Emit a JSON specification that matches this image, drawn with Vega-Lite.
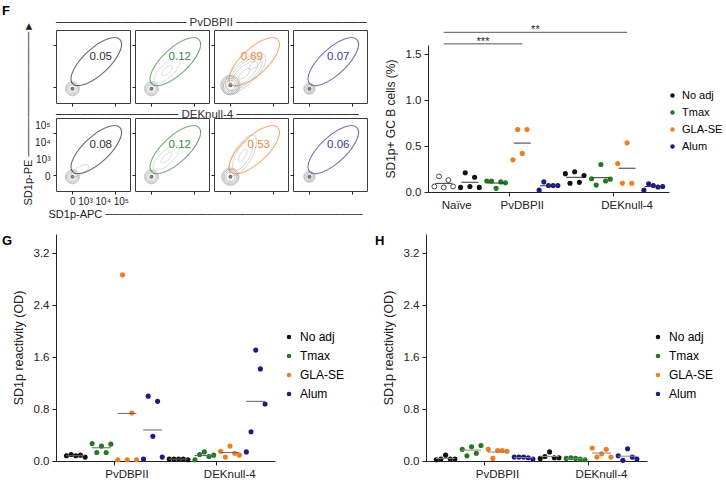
{
  "$schema": "https://vega.github.io/schema/vega-lite/v6.json",
  "padding": {"left": 2, "top": 5, "right": 0, "bottom": 0},
  "config": {
    "font": "Liberation Sans",
    "view": {"stroke": null},
    "axis": {"grid": false, "domainColor": "#222", "tickColor": "#222", "labelColor": "#222", "titleColor": "#222", "titleFontWeight": "normal"},
    "title": {"font": "Liberation Sans"}
  },
  "resolve": {"scale": {"color": "independent"}, "legend": {"color": "independent"}},
  "datasets": {
    "gates": [
      {"antigen": "PvDBPII", "adj": "No adj", "pct": 0.05},
      {"antigen": "PvDBPII", "adj": "Tmax", "pct": 0.12},
      {"antigen": "PvDBPII", "adj": "GLA-SE", "pct": 0.69},
      {"antigen": "PvDBPII", "adj": "Alum", "pct": 0.07},
      {"antigen": "DEKnull-4", "adj": "No adj", "pct": 0.08},
      {"antigen": "DEKnull-4", "adj": "Tmax", "pct": 0.12},
      {"antigen": "DEKnull-4", "adj": "GLA-SE", "pct": 0.53},
      {"antigen": "DEKnull-4", "adj": "Alum", "pct": 0.06}
    ],
    "blob": [{"ring": 1}, {"ring": 2}, {"ring": 3}, {"ring": 4}, {"ring": 5}],
    "clouds": [
      {"antigen": "PvDBPII", "adj": "Tmax", "apc": 0.95, "pe": 1.0, "ring": 1},
      {"antigen": "PvDBPII", "adj": "Tmax", "apc": 0.95, "pe": 1.0, "ring": 2},
      {"antigen": "PvDBPII", "adj": "GLA-SE", "apc": 0.85, "pe": 0.8, "ring": 1},
      {"antigen": "PvDBPII", "adj": "GLA-SE", "apc": 0.85, "pe": 0.8, "ring": 2},
      {"antigen": "PvDBPII", "adj": "GLA-SE", "apc": 0.85, "pe": 0.8, "ring": 3},
      {"antigen": "PvDBPII", "adj": "GLA-SE", "apc": 0.85, "pe": 0.8, "ring": 4},
      {"antigen": "PvDBPII", "adj": "GLA-SE", "apc": 1.5, "pe": 1.4, "ring": 1},
      {"antigen": "DEKnull-4", "adj": "No adj", "apc": 0.45, "pe": 0.25, "ring": 1},
      {"antigen": "DEKnull-4", "adj": "Tmax", "apc": 0.9, "pe": 1.05, "ring": 1},
      {"antigen": "DEKnull-4", "adj": "Tmax", "apc": 0.9, "pe": 1.05, "ring": 2},
      {"antigen": "DEKnull-4", "adj": "GLA-SE", "apc": 0.75, "pe": 1.2, "ring": 1},
      {"antigen": "DEKnull-4", "adj": "GLA-SE", "apc": 0.75, "pe": 1.2, "ring": 2},
      {"antigen": "DEKnull-4", "adj": "GLA-SE", "apc": 0.75, "pe": 1.2, "ring": 3}
    ],
    "sig": [
      {"from": "Naïve", "to": "PvDBPII|GLA-SE", "level": 1, "label": "***"},
      {"from": "Naïve", "to": "DEKnull-4|GLA-SE", "level": 2, "label": "**"}
    ],
    "fdata": [
      {"group": "Naïve", "adj": "Naïve", "rep": 1, "val": 0.06},
      {"group": "Naïve", "adj": "Naïve", "rep": 2, "val": 0.17},
      {"group": "Naïve", "adj": "Naïve", "rep": 3, "val": 0.05},
      {"group": "Naïve", "adj": "Naïve", "rep": 4, "val": 0.13},
      {"group": "Naïve", "adj": "Naïve", "rep": 5, "val": 0.06},
      {"group": "PvDBPII", "adj": "No adj", "rep": 1, "val": 0.05},
      {"group": "PvDBPII", "adj": "No adj", "rep": 2, "val": 0.21},
      {"group": "PvDBPII", "adj": "No adj", "rep": 3, "val": 0.06},
      {"group": "PvDBPII", "adj": "No adj", "rep": 4, "val": 0.16},
      {"group": "PvDBPII", "adj": "No adj", "rep": 5, "val": 0.05},
      {"group": "PvDBPII", "adj": "Tmax", "rep": 1, "val": 0.12},
      {"group": "PvDBPII", "adj": "Tmax", "rep": 2, "val": 0.12},
      {"group": "PvDBPII", "adj": "Tmax", "rep": 3, "val": 0.04},
      {"group": "PvDBPII", "adj": "Tmax", "rep": 4, "val": 0.11},
      {"group": "PvDBPII", "adj": "Tmax", "rep": 5, "val": 0.1},
      {"group": "PvDBPII", "adj": "GLA-SE", "rep": 1, "val": 0.35},
      {"group": "PvDBPII", "adj": "GLA-SE", "rep": 2, "val": 0.68},
      {"group": "PvDBPII", "adj": "GLA-SE", "rep": 3, "val": 0.42},
      {"group": "PvDBPII", "adj": "GLA-SE", "rep": 4, "val": 0.68},
      {"group": "PvDBPII", "adj": "Alum", "rep": 1, "val": 0.02},
      {"group": "PvDBPII", "adj": "Alum", "rep": 2, "val": 0.11},
      {"group": "PvDBPII", "adj": "Alum", "rep": 3, "val": 0.07},
      {"group": "PvDBPII", "adj": "Alum", "rep": 4, "val": 0.07},
      {"group": "PvDBPII", "adj": "Alum", "rep": 5, "val": 0.07},
      {"group": "DEKnull-4", "adj": "No adj", "rep": 1, "val": 0.2},
      {"group": "DEKnull-4", "adj": "No adj", "rep": 2, "val": 0.095},
      {"group": "DEKnull-4", "adj": "No adj", "rep": 3, "val": 0.22},
      {"group": "DEKnull-4", "adj": "No adj", "rep": 4, "val": 0.105},
      {"group": "DEKnull-4", "adj": "No adj", "rep": 5, "val": 0.18},
      {"group": "DEKnull-4", "adj": "Tmax", "rep": 1, "val": 0.145},
      {"group": "DEKnull-4", "adj": "Tmax", "rep": 2, "val": 0.075},
      {"group": "DEKnull-4", "adj": "Tmax", "rep": 3, "val": 0.3},
      {"group": "DEKnull-4", "adj": "Tmax", "rep": 4, "val": 0.12},
      {"group": "DEKnull-4", "adj": "Tmax", "rep": 5, "val": 0.14},
      {"group": "DEKnull-4", "adj": "GLA-SE", "rep": 1, "val": 0.31},
      {"group": "DEKnull-4", "adj": "GLA-SE", "rep": 2, "val": 0.095},
      {"group": "DEKnull-4", "adj": "GLA-SE", "rep": 3, "val": 0.535},
      {"group": "DEKnull-4", "adj": "GLA-SE", "rep": 4, "val": 0.095},
      {"group": "DEKnull-4", "adj": "Alum", "rep": 1, "val": 0.02},
      {"group": "DEKnull-4", "adj": "Alum", "rep": 2, "val": 0.09},
      {"group": "DEKnull-4", "adj": "Alum", "rep": 3, "val": 0.07},
      {"group": "DEKnull-4", "adj": "Alum", "rep": 4, "val": 0.055},
      {"group": "DEKnull-4", "adj": "Alum", "rep": 5, "val": 0.06}
    ],
    "g": [
      {"group": "PvDBPII", "adj": "No adj", "rep": 1, "val": 0.08},
      {"group": "PvDBPII", "adj": "No adj", "rep": 2, "val": 0.1},
      {"group": "PvDBPII", "adj": "No adj", "rep": 3, "val": 0.08},
      {"group": "PvDBPII", "adj": "No adj", "rep": 4, "val": 0.09},
      {"group": "PvDBPII", "adj": "No adj", "rep": 5, "val": 0.06},
      {"group": "PvDBPII", "adj": "Tmax", "rep": 1, "val": 0.27},
      {"group": "PvDBPII", "adj": "Tmax", "rep": 2, "val": 0.13},
      {"group": "PvDBPII", "adj": "Tmax", "rep": 3, "val": 0.23},
      {"group": "PvDBPII", "adj": "Tmax", "rep": 4, "val": 0.13},
      {"group": "PvDBPII", "adj": "Tmax", "rep": 5, "val": 0.26},
      {"group": "PvDBPII", "adj": "GLA-SE", "rep": 1, "val": 0.02},
      {"group": "PvDBPII", "adj": "GLA-SE", "rep": 2, "val": 2.87},
      {"group": "PvDBPII", "adj": "GLA-SE", "rep": 3, "val": 0.02},
      {"group": "PvDBPII", "adj": "GLA-SE", "rep": 4, "val": 0.74},
      {"group": "PvDBPII", "adj": "GLA-SE", "rep": 5, "val": 0.02},
      {"group": "PvDBPII", "adj": "Alum", "rep": 1, "val": 0.03},
      {"group": "PvDBPII", "adj": "Alum", "rep": 2, "val": 1.0},
      {"group": "PvDBPII", "adj": "Alum", "rep": 3, "val": 0.38},
      {"group": "PvDBPII", "adj": "Alum", "rep": 4, "val": 0.92},
      {"group": "PvDBPII", "adj": "Alum", "rep": 5, "val": 0.06},
      {"group": "DEKnull-4", "adj": "No adj", "rep": 1, "val": 0.03},
      {"group": "DEKnull-4", "adj": "No adj", "rep": 2, "val": 0.03},
      {"group": "DEKnull-4", "adj": "No adj", "rep": 3, "val": 0.03},
      {"group": "DEKnull-4", "adj": "No adj", "rep": 4, "val": 0.03},
      {"group": "DEKnull-4", "adj": "No adj", "rep": 5, "val": 0.02},
      {"group": "DEKnull-4", "adj": "Tmax", "rep": 1, "val": 0.02},
      {"group": "DEKnull-4", "adj": "Tmax", "rep": 2, "val": 0.1},
      {"group": "DEKnull-4", "adj": "Tmax", "rep": 3, "val": 0.14},
      {"group": "DEKnull-4", "adj": "Tmax", "rep": 4, "val": 0.07},
      {"group": "DEKnull-4", "adj": "Tmax", "rep": 5, "val": 0.09},
      {"group": "DEKnull-4", "adj": "GLA-SE", "rep": 1, "val": 0.15},
      {"group": "DEKnull-4", "adj": "GLA-SE", "rep": 2, "val": 0.06},
      {"group": "DEKnull-4", "adj": "GLA-SE", "rep": 3, "val": 0.23},
      {"group": "DEKnull-4", "adj": "GLA-SE", "rep": 4, "val": 0.12},
      {"group": "DEKnull-4", "adj": "GLA-SE", "rep": 5, "val": 0.09},
      {"group": "DEKnull-4", "adj": "Alum", "rep": 1, "val": 0.14},
      {"group": "DEKnull-4", "adj": "Alum", "rep": 2, "val": 0.45},
      {"group": "DEKnull-4", "adj": "Alum", "rep": 3, "val": 1.71},
      {"group": "DEKnull-4", "adj": "Alum", "rep": 4, "val": 1.42},
      {"group": "DEKnull-4", "adj": "Alum", "rep": 5, "val": 0.88}
    ],
    "h": [
      {"group": "PvDBPII", "adj": "No adj", "rep": 1, "val": 0.02},
      {"group": "PvDBPII", "adj": "No adj", "rep": 2, "val": 0.03},
      {"group": "PvDBPII", "adj": "No adj", "rep": 3, "val": 0.09},
      {"group": "PvDBPII", "adj": "No adj", "rep": 4, "val": 0.03},
      {"group": "PvDBPII", "adj": "No adj", "rep": 5, "val": 0.03},
      {"group": "PvDBPII", "adj": "Tmax", "rep": 1, "val": 0.18},
      {"group": "PvDBPII", "adj": "Tmax", "rep": 2, "val": 0.08},
      {"group": "PvDBPII", "adj": "Tmax", "rep": 3, "val": 0.22},
      {"group": "PvDBPII", "adj": "Tmax", "rep": 4, "val": 0.12},
      {"group": "PvDBPII", "adj": "Tmax", "rep": 5, "val": 0.24},
      {"group": "PvDBPII", "adj": "GLA-SE", "rep": 1, "val": 0.18},
      {"group": "PvDBPII", "adj": "GLA-SE", "rep": 2, "val": 0.04},
      {"group": "PvDBPII", "adj": "GLA-SE", "rep": 3, "val": 0.16},
      {"group": "PvDBPII", "adj": "GLA-SE", "rep": 4, "val": 0.16},
      {"group": "PvDBPII", "adj": "GLA-SE", "rep": 5, "val": 0.15},
      {"group": "PvDBPII", "adj": "Alum", "rep": 1, "val": 0.06},
      {"group": "PvDBPII", "adj": "Alum", "rep": 2, "val": 0.06},
      {"group": "PvDBPII", "adj": "Alum", "rep": 3, "val": 0.06},
      {"group": "PvDBPII", "adj": "Alum", "rep": 4, "val": 0.05},
      {"group": "PvDBPII", "adj": "Alum", "rep": 5, "val": 0.03},
      {"group": "DEKnull-4", "adj": "No adj", "rep": 1, "val": 0.04},
      {"group": "DEKnull-4", "adj": "No adj", "rep": 2, "val": 0.07},
      {"group": "DEKnull-4", "adj": "No adj", "rep": 3, "val": 0.14},
      {"group": "DEKnull-4", "adj": "No adj", "rep": 4, "val": 0.05},
      {"group": "DEKnull-4", "adj": "No adj", "rep": 5, "val": 0.05},
      {"group": "DEKnull-4", "adj": "Tmax", "rep": 1, "val": 0.04},
      {"group": "DEKnull-4", "adj": "Tmax", "rep": 2, "val": 0.05},
      {"group": "DEKnull-4", "adj": "Tmax", "rep": 3, "val": 0.04},
      {"group": "DEKnull-4", "adj": "Tmax", "rep": 4, "val": 0.03},
      {"group": "DEKnull-4", "adj": "Tmax", "rep": 5, "val": 0.02},
      {"group": "DEKnull-4", "adj": "GLA-SE", "rep": 1, "val": 0.2},
      {"group": "DEKnull-4", "adj": "GLA-SE", "rep": 2, "val": 0.06},
      {"group": "DEKnull-4", "adj": "GLA-SE", "rep": 3, "val": 0.11},
      {"group": "DEKnull-4", "adj": "GLA-SE", "rep": 4, "val": 0.18},
      {"group": "DEKnull-4", "adj": "GLA-SE", "rep": 5, "val": 0.06},
      {"group": "DEKnull-4", "adj": "Alum", "rep": 1, "val": 0.08},
      {"group": "DEKnull-4", "adj": "Alum", "rep": 2, "val": 0.01},
      {"group": "DEKnull-4", "adj": "Alum", "rep": 3, "val": 0.19},
      {"group": "DEKnull-4", "adj": "Alum", "rep": 4, "val": 0.06},
      {"group": "DEKnull-4", "adj": "Alum", "rep": 5, "val": 0.03}
    ]
  },
  "vconcat": [
    {
      "resolve": {"scale": {"color": "independent"}, "legend": {"color": "independent"}},
      "hconcat": [
        {
          "title": {"text": "F", "anchor": "start", "frame": "group", "fontSize": 13, "fontWeight": "bold", "color": "#000", "dx": -54, "offset": -2},
          "columns": 4,
          "spacing": {"row": 15, "column": 5},
          "bounds": "flush",
          "concat": [
            {"width": 74, "height": 73, "view": {"stroke": "#3c3c3c", "strokeWidth": 1}, "resolve": {"scale": {"size": "independent"}},
              "title": {"text": "──────────────── PvDBPII ────────────────", "anchor": "start", "frame": "group", "fontSize": 11.5, "fontWeight": "normal", "color": "#333", "offset": 2, "limit": 0},
              "layer": [
              {"data": {"name": "blob"}, "mark": {"type": "point", "shape": "circle", "filled": false, "stroke": "#9a9a9a", "strokeWidth": 0.7}, "encoding": {"x": {"datum": 0, "type": "quantitative", "scale": {"domain": [-0.9, 3.1]}, "axis": {"values": [0, 0.6, 1.6, 2.6], "labels": false, "domain": false, "tickSize": 3, "title": null}}, "y": {"datum": -0.12, "type": "quantitative", "scale": {"domain": [-0.9, 3.1]}, "axis": {"values": [0, 0.6, 1.6, 2.6], "labels": false, "domain": false, "tickSize": 3, "title": null}}, "size": {"field": "ring", "type": "quantitative", "scale": {"domain": [1, 5], "range": [200, 8]}, "legend": null}}},
              {"data": {"name": "blob"}, "transform": [{"filter": "datum.ring == 5"}], "mark": {"type": "point", "shape": "circle", "filled": true, "color": "#4a4a4a", "size": 16}, "encoding": {"x": {"datum": 0, "type": "quantitative"}, "y": {"datum": -0.12, "type": "quantitative"}}},
              {"data": {"name": "gates"}, "transform": [{"filter": "datum.antigen == 'PvDBPII' && datum.adj == 'No adj'"}], "mark": {"type": "point", "shape": "M1,0C1,0.221,0.552,0.4,0,0.4C-0.552,0.4,-1,0.221,-1,0C-1,-0.221,-0.552,-0.4,0,-0.4C0.552,-0.4,1,-0.221,1,0Z", "angle": 317, "filled": false, "stroke": "#2e2e2e", "strokeWidth": 1.1, "size": 4200}, "encoding": {"x": {"datum": 1.45, "type": "quantitative"}, "y": {"datum": 1.55, "type": "quantitative"}}},
              {"data": {"name": "gates"}, "transform": [{"filter": "datum.antigen == 'PvDBPII' && datum.adj == 'No adj'"}], "mark": {"type": "text", "fontSize": 11.5, "color": "#2e2e2e"}, "encoding": {"x": {"datum": 1.72, "type": "quantitative"}, "y": {"datum": 1.82, "type": "quantitative"}, "text": {"field": "pct", "type": "quantitative", "format": ".2f"}}}
            ]},
            {"width": 74, "height": 73, "view": {"stroke": "#3c3c3c", "strokeWidth": 1}, "resolve": {"scale": {"size": "independent"}},
              "title": {"text": "─────────────── DEKnull-4 ───────────────", "orient": "bottom", "anchor": "start", "frame": "group", "dx": -79, "fontSize": 11.5, "fontWeight": "normal", "color": "#333", "offset": 2, "limit": 0},
              "layer": [
              {"data": {"name": "blob"}, "mark": {"type": "point", "shape": "circle", "filled": false, "stroke": "#9a9a9a", "strokeWidth": 0.7}, "encoding": {"x": {"datum": 0, "type": "quantitative", "scale": {"domain": [-0.9, 3.1]}, "axis": {"values": [0, 0.6, 1.6, 2.6], "labels": false, "domain": false, "tickSize": 3, "title": null}}, "y": {"datum": -0.12, "type": "quantitative", "scale": {"domain": [-0.9, 3.1]}, "axis": {"values": [0, 0.6, 1.6, 2.6], "labels": false, "domain": false, "tickSize": 3, "title": null}}, "size": {"field": "ring", "type": "quantitative", "scale": {"domain": [1, 5], "range": [200, 8]}, "legend": null}}},
              {"data": {"name": "blob"}, "transform": [{"filter": "datum.ring == 5"}], "mark": {"type": "point", "shape": "circle", "filled": true, "color": "#4a4a4a", "size": 16}, "encoding": {"x": {"datum": 0, "type": "quantitative"}, "y": {"datum": -0.12, "type": "quantitative"}}},
              {"data": {"name": "clouds"}, "transform": [{"filter": "datum.antigen == 'PvDBPII' && datum.adj == 'Tmax'"}], "mark": {"type": "point", "shape": "M1,0C1,0.221,0.552,0.4,0,0.4C-0.552,0.4,-1,0.221,-1,0C-1,-0.221,-0.552,-0.4,0,-0.4C0.552,-0.4,1,-0.221,1,0Z", "angle": 317, "filled": false, "stroke": "#b0b0b0", "strokeWidth": 0.6}, "encoding": {"x": {"field": "apc", "type": "quantitative"}, "y": {"field": "pe", "type": "quantitative"}, "size": {"field": "ring", "type": "quantitative", "scale": {"domain": [1, 4], "range": [200, 3000]}, "legend": null}}},
              {"data": {"name": "gates"}, "transform": [{"filter": "datum.antigen == 'PvDBPII' && datum.adj == 'Tmax'"}], "mark": {"type": "point", "shape": "M1,0C1,0.221,0.552,0.4,0,0.4C-0.552,0.4,-1,0.221,-1,0C-1,-0.221,-0.552,-0.4,0,-0.4C0.552,-0.4,1,-0.221,1,0Z", "angle": 317, "filled": false, "stroke": "#358d35", "strokeWidth": 1.1, "size": 4200}, "encoding": {"x": {"datum": 1.45, "type": "quantitative"}, "y": {"datum": 1.55, "type": "quantitative"}}},
              {"data": {"name": "gates"}, "transform": [{"filter": "datum.antigen == 'PvDBPII' && datum.adj == 'Tmax'"}], "mark": {"type": "text", "fontSize": 11.5, "color": "#358d35"}, "encoding": {"x": {"datum": 1.72, "type": "quantitative"}, "y": {"datum": 1.82, "type": "quantitative"}, "text": {"field": "pct", "type": "quantitative", "format": ".2f"}}}
            ]},
            {"width": 74, "height": 73, "view": {"stroke": "#3c3c3c", "strokeWidth": 1}, "resolve": {"scale": {"size": "independent"}}, "layer": [
              {"data": {"name": "blob"}, "mark": {"type": "point", "shape": "circle", "filled": false, "stroke": "#808080", "strokeWidth": 0.7}, "encoding": {"x": {"datum": 0, "type": "quantitative", "scale": {"domain": [-0.9, 3.1]}, "axis": {"values": [0, 0.6, 1.6, 2.6], "labels": false, "domain": false, "tickSize": 3, "title": null}}, "y": {"datum": 0.1, "type": "quantitative", "scale": {"domain": [-0.9, 3.1]}, "axis": {"values": [0, 0.6, 1.6, 2.6], "labels": false, "domain": false, "tickSize": 3, "title": null}}, "size": {"field": "ring", "type": "quantitative", "scale": {"domain": [1, 5], "range": [380, 10]}, "legend": null}}},
              {"data": {"name": "blob"}, "transform": [{"filter": "datum.ring == 5"}], "mark": {"type": "point", "shape": "circle", "filled": true, "color": "#4a4a4a", "size": 16}, "encoding": {"x": {"datum": 0, "type": "quantitative"}, "y": {"datum": 0.1, "type": "quantitative"}}},
              {"data": {"name": "clouds"}, "transform": [{"filter": "datum.antigen == 'PvDBPII' && datum.adj == 'GLA-SE'"}], "mark": {"type": "point", "shape": "M1,0C1,0.221,0.552,0.4,0,0.4C-0.552,0.4,-1,0.221,-1,0C-1,-0.221,-0.552,-0.4,0,-0.4C0.552,-0.4,1,-0.221,1,0Z", "angle": 317, "filled": false, "stroke": "#a0a0a0", "strokeWidth": 0.6}, "encoding": {"x": {"field": "apc", "type": "quantitative"}, "y": {"field": "pe", "type": "quantitative"}, "size": {"field": "ring", "type": "quantitative", "scale": {"domain": [1, 4], "range": [200, 3000]}, "legend": null}}},
              {"data": {"name": "gates"}, "transform": [{"filter": "datum.antigen == 'PvDBPII' && datum.adj == 'GLA-SE'"}], "mark": {"type": "point", "shape": "M1,0C1,0.221,0.552,0.4,0,0.4C-0.552,0.4,-1,0.221,-1,0C-1,-0.221,-0.552,-0.4,0,-0.4C0.552,-0.4,1,-0.221,1,0Z", "angle": 317, "filled": false, "stroke": "#f5883a", "strokeWidth": 1.1, "size": 4200}, "encoding": {"x": {"datum": 1.45, "type": "quantitative"}, "y": {"datum": 1.55, "type": "quantitative"}}},
              {"data": {"name": "gates"}, "transform": [{"filter": "datum.antigen == 'PvDBPII' && datum.adj == 'GLA-SE'"}], "mark": {"type": "text", "fontSize": 11.5, "color": "#f5883a"}, "encoding": {"x": {"datum": 1.3, "type": "quantitative"}, "y": {"datum": 1.82, "type": "quantitative"}, "text": {"field": "pct", "type": "quantitative", "format": ".2f"}}}
            ]},
            {"width": 74, "height": 73, "view": {"stroke": "#3c3c3c", "strokeWidth": 1}, "resolve": {"scale": {"size": "independent"}}, "layer": [
              {"data": {"name": "blob"}, "mark": {"type": "point", "shape": "circle", "filled": false, "stroke": "#9a9a9a", "strokeWidth": 0.7}, "encoding": {"x": {"datum": 0, "type": "quantitative", "scale": {"domain": [-0.9, 3.1]}, "axis": {"values": [0, 0.6, 1.6, 2.6], "labels": false, "domain": false, "tickSize": 3, "title": null}}, "y": {"datum": -0.12, "type": "quantitative", "scale": {"domain": [-0.9, 3.1]}, "axis": {"values": [0, 0.6, 1.6, 2.6], "labels": false, "domain": false, "tickSize": 3, "title": null}}, "size": {"field": "ring", "type": "quantitative", "scale": {"domain": [1, 5], "range": [130, 8]}, "legend": null}}},
              {"data": {"name": "blob"}, "transform": [{"filter": "datum.ring == 5"}], "mark": {"type": "point", "shape": "circle", "filled": true, "color": "#4a4a4a", "size": 16}, "encoding": {"x": {"datum": 0, "type": "quantitative"}, "y": {"datum": -0.12, "type": "quantitative"}}},
              {"data": {"name": "gates"}, "transform": [{"filter": "datum.antigen == 'PvDBPII' && datum.adj == 'Alum'"}], "mark": {"type": "point", "shape": "M1,0C1,0.221,0.552,0.4,0,0.4C-0.552,0.4,-1,0.221,-1,0C-1,-0.221,-0.552,-0.4,0,-0.4C0.552,-0.4,1,-0.221,1,0Z", "angle": 317, "filled": false, "stroke": "#3a3aa6", "strokeWidth": 1.1, "size": 4200}, "encoding": {"x": {"datum": 1.45, "type": "quantitative"}, "y": {"datum": 1.55, "type": "quantitative"}}},
              {"data": {"name": "gates"}, "transform": [{"filter": "datum.antigen == 'PvDBPII' && datum.adj == 'Alum'"}], "mark": {"type": "text", "fontSize": 11.5, "color": "#3a3aa6"}, "encoding": {"x": {"datum": 1.75, "type": "quantitative"}, "y": {"datum": 1.82, "type": "quantitative"}, "text": {"field": "pct", "type": "quantitative", "format": ".2f"}}}
            ]},
            {"width": 74, "height": 73, "view": {"stroke": "#3c3c3c", "strokeWidth": 1}, "resolve": {"scale": {"size": "independent"}},
              "layer": [
              {"data": {"name": "blob"}, "mark": {"type": "point", "shape": "circle", "filled": false, "stroke": "#9a9a9a", "strokeWidth": 0.7}, "encoding": {"x": {"datum": 0, "type": "quantitative", "scale": {"domain": [-0.9, 3.1]}, "axis": {"values": [0, 0.6, 1.6, 2.6], "domain": false, "tickSize": 3, "labelFontSize": 10, "labelPadding": 2, "labelAlign": "left", "labelOffset": -3, "labelOverlap": false, "labelBound": false, "labelFlush": false, "labelExpr": "datum.value == 0 ? '0 10³ 10⁴ 10⁵' : ''", "title": "SD1p-APC ─────────────────────────────────", "titleFontSize": 11, "titleAnchor": "start", "titleAlign": "left", "titleBaseline": "middle", "titleX": -8, "titleY": 23, "titleLimit": 600}}, "y": {"datum": -0.12, "type": "quantitative", "scale": {"domain": [-0.9, 3.1]}, "axis": {"values": [0, 0.6, 1.6, 2.6], "domain": false, "tickSize": 3, "labelFontSize": 10, "labelPadding": 3, "labelBaseline": "middle", "labelLineHeight": 17, "labelOffset": -7, "labelOverlap": false, "labelBound": false, "labelFlush": false, "labelExpr": "datum.value > 2 ? ['10⁵', '10⁴', '10³', '0'] : ''", "title": "SD1p-PE ────────────────►", "titleFontSize": 11, "titleAngle": 270, "titleAnchor": "start", "titleAlign": "left", "titleBaseline": "middle", "titleX": -28, "titleY": 87, "titleLimit": 600}}, "size": {"field": "ring", "type": "quantitative", "scale": {"domain": [1, 5], "range": [200, 8]}, "legend": null}}},
              {"data": {"name": "blob"}, "transform": [{"filter": "datum.ring == 5"}], "mark": {"type": "point", "shape": "circle", "filled": true, "color": "#4a4a4a", "size": 16}, "encoding": {"x": {"datum": 0, "type": "quantitative"}, "y": {"datum": -0.12, "type": "quantitative"}}},
              {"data": {"name": "clouds"}, "transform": [{"filter": "datum.antigen == 'DEKnull-4' && datum.adj == 'No adj'"}], "mark": {"type": "point", "shape": "M1,0C1,0.221,0.552,0.4,0,0.4C-0.552,0.4,-1,0.221,-1,0C-1,-0.221,-0.552,-0.4,0,-0.4C0.552,-0.4,1,-0.221,1,0Z", "angle": 330, "filled": false, "stroke": "#b0b0b0", "strokeWidth": 0.6}, "encoding": {"x": {"field": "apc", "type": "quantitative"}, "y": {"field": "pe", "type": "quantitative"}, "size": {"field": "ring", "type": "quantitative", "scale": {"domain": [1, 4], "range": [400, 3000]}, "legend": null}}},
              {"data": {"name": "gates"}, "transform": [{"filter": "datum.antigen == 'DEKnull-4' && datum.adj == 'No adj'"}], "mark": {"type": "point", "shape": "M1,0C1,0.221,0.552,0.4,0,0.4C-0.552,0.4,-1,0.221,-1,0C-1,-0.221,-0.552,-0.4,0,-0.4C0.552,-0.4,1,-0.221,1,0Z", "angle": 317, "filled": false, "stroke": "#2e2e2e", "strokeWidth": 1.1, "size": 4200}, "encoding": {"x": {"datum": 1.45, "type": "quantitative"}, "y": {"datum": 1.55, "type": "quantitative"}}},
              {"data": {"name": "gates"}, "transform": [{"filter": "datum.antigen == 'DEKnull-4' && datum.adj == 'No adj'"}], "mark": {"type": "text", "fontSize": 11.5, "color": "#2e2e2e"}, "encoding": {"x": {"datum": 1.72, "type": "quantitative"}, "y": {"datum": 1.82, "type": "quantitative"}, "text": {"field": "pct", "type": "quantitative", "format": ".2f"}}}
            ]},
            {"width": 74, "height": 73, "view": {"stroke": "#3c3c3c", "strokeWidth": 1}, "resolve": {"scale": {"size": "independent"}}, "layer": [
              {"data": {"name": "blob"}, "mark": {"type": "point", "shape": "circle", "filled": false, "stroke": "#9a9a9a", "strokeWidth": 0.7}, "encoding": {"x": {"datum": 0, "type": "quantitative", "scale": {"domain": [-0.9, 3.1]}, "axis": {"values": [0, 0.6, 1.6, 2.6], "labels": false, "domain": false, "tickSize": 3, "title": null}}, "y": {"datum": -0.12, "type": "quantitative", "scale": {"domain": [-0.9, 3.1]}, "axis": {"values": [0, 0.6, 1.6, 2.6], "labels": false, "domain": false, "tickSize": 3, "title": null}}, "size": {"field": "ring", "type": "quantitative", "scale": {"domain": [1, 5], "range": [200, 8]}, "legend": null}}},
              {"data": {"name": "blob"}, "transform": [{"filter": "datum.ring == 5"}], "mark": {"type": "point", "shape": "circle", "filled": true, "color": "#4a4a4a", "size": 16}, "encoding": {"x": {"datum": 0, "type": "quantitative"}, "y": {"datum": -0.12, "type": "quantitative"}}},
              {"data": {"name": "clouds"}, "transform": [{"filter": "datum.antigen == 'DEKnull-4' && datum.adj == 'Tmax'"}], "mark": {"type": "point", "shape": "M1,0C1,0.221,0.552,0.4,0,0.4C-0.552,0.4,-1,0.221,-1,0C-1,-0.221,-0.552,-0.4,0,-0.4C0.552,-0.4,1,-0.221,1,0Z", "angle": 317, "filled": false, "stroke": "#b0b0b0", "strokeWidth": 0.6}, "encoding": {"x": {"field": "apc", "type": "quantitative"}, "y": {"field": "pe", "type": "quantitative"}, "size": {"field": "ring", "type": "quantitative", "scale": {"domain": [1, 4], "range": [200, 3000]}, "legend": null}}},
              {"data": {"name": "gates"}, "transform": [{"filter": "datum.antigen == 'DEKnull-4' && datum.adj == 'Tmax'"}], "mark": {"type": "point", "shape": "M1,0C1,0.221,0.552,0.4,0,0.4C-0.552,0.4,-1,0.221,-1,0C-1,-0.221,-0.552,-0.4,0,-0.4C0.552,-0.4,1,-0.221,1,0Z", "angle": 317, "filled": false, "stroke": "#358d35", "strokeWidth": 1.1, "size": 4200}, "encoding": {"x": {"datum": 1.45, "type": "quantitative"}, "y": {"datum": 1.55, "type": "quantitative"}}},
              {"data": {"name": "gates"}, "transform": [{"filter": "datum.antigen == 'DEKnull-4' && datum.adj == 'Tmax'"}], "mark": {"type": "text", "fontSize": 11.5, "color": "#358d35"}, "encoding": {"x": {"datum": 1.72, "type": "quantitative"}, "y": {"datum": 1.82, "type": "quantitative"}, "text": {"field": "pct", "type": "quantitative", "format": ".2f"}}}
            ]},
            {"width": 74, "height": 73, "view": {"stroke": "#3c3c3c", "strokeWidth": 1}, "resolve": {"scale": {"size": "independent"}}, "layer": [
              {"data": {"name": "blob"}, "mark": {"type": "point", "shape": "circle", "filled": false, "stroke": "#808080", "strokeWidth": 0.7}, "encoding": {"x": {"datum": 0, "type": "quantitative", "scale": {"domain": [-0.9, 3.1]}, "axis": {"values": [0, 0.6, 1.6, 2.6], "labels": false, "domain": false, "tickSize": 3, "title": null}}, "y": {"datum": -0.12, "type": "quantitative", "scale": {"domain": [-0.9, 3.1]}, "axis": {"values": [0, 0.6, 1.6, 2.6], "labels": false, "domain": false, "tickSize": 3, "title": null}}, "size": {"field": "ring", "type": "quantitative", "scale": {"domain": [1, 5], "range": [300, 8]}, "legend": null}}},
              {"data": {"name": "blob"}, "transform": [{"filter": "datum.ring == 5"}], "mark": {"type": "point", "shape": "circle", "filled": true, "color": "#4a4a4a", "size": 16}, "encoding": {"x": {"datum": 0, "type": "quantitative"}, "y": {"datum": -0.12, "type": "quantitative"}}},
              {"data": {"name": "clouds"}, "transform": [{"filter": "datum.antigen == 'DEKnull-4' && datum.adj == 'GLA-SE'"}], "mark": {"type": "point", "shape": "M1,0C1,0.221,0.552,0.4,0,0.4C-0.552,0.4,-1,0.221,-1,0C-1,-0.221,-0.552,-0.4,0,-0.4C0.552,-0.4,1,-0.221,1,0Z", "angle": 300, "filled": false, "stroke": "#b0b0b0", "strokeWidth": 0.6}, "encoding": {"x": {"field": "apc", "type": "quantitative"}, "y": {"field": "pe", "type": "quantitative"}, "size": {"field": "ring", "type": "quantitative", "scale": {"domain": [1, 4], "range": [200, 3000]}, "legend": null}}},
              {"data": {"name": "gates"}, "transform": [{"filter": "datum.antigen == 'DEKnull-4' && datum.adj == 'GLA-SE'"}], "mark": {"type": "point", "shape": "M1,0C1,0.221,0.552,0.4,0,0.4C-0.552,0.4,-1,0.221,-1,0C-1,-0.221,-0.552,-0.4,0,-0.4C0.552,-0.4,1,-0.221,1,0Z", "angle": 317, "filled": false, "stroke": "#f5883a", "strokeWidth": 1.1, "size": 4200}, "encoding": {"x": {"datum": 1.45, "type": "quantitative"}, "y": {"datum": 1.55, "type": "quantitative"}}},
              {"data": {"name": "gates"}, "transform": [{"filter": "datum.antigen == 'DEKnull-4' && datum.adj == 'GLA-SE'"}], "mark": {"type": "text", "fontSize": 11.5, "color": "#f5883a"}, "encoding": {"x": {"datum": 1.72, "type": "quantitative"}, "y": {"datum": 1.82, "type": "quantitative"}, "text": {"field": "pct", "type": "quantitative", "format": ".2f"}}}
            ]},
            {"width": 74, "height": 73, "view": {"stroke": "#3c3c3c", "strokeWidth": 1}, "resolve": {"scale": {"size": "independent"}}, "layer": [
              {"data": {"name": "blob"}, "mark": {"type": "point", "shape": "circle", "filled": false, "stroke": "#9a9a9a", "strokeWidth": 0.7}, "encoding": {"x": {"datum": 0, "type": "quantitative", "scale": {"domain": [-0.9, 3.1]}, "axis": {"values": [0, 0.6, 1.6, 2.6], "labels": false, "domain": false, "tickSize": 3, "title": null}}, "y": {"datum": -0.12, "type": "quantitative", "scale": {"domain": [-0.9, 3.1]}, "axis": {"values": [0, 0.6, 1.6, 2.6], "labels": false, "domain": false, "tickSize": 3, "title": null}}, "size": {"field": "ring", "type": "quantitative", "scale": {"domain": [1, 5], "range": [130, 8]}, "legend": null}}},
              {"data": {"name": "blob"}, "transform": [{"filter": "datum.ring == 5"}], "mark": {"type": "point", "shape": "circle", "filled": true, "color": "#4a4a4a", "size": 16}, "encoding": {"x": {"datum": 0, "type": "quantitative"}, "y": {"datum": -0.12, "type": "quantitative"}}},
              {"data": {"name": "gates"}, "transform": [{"filter": "datum.antigen == 'DEKnull-4' && datum.adj == 'Alum'"}], "mark": {"type": "point", "shape": "M1,0C1,0.221,0.552,0.4,0,0.4C-0.552,0.4,-1,0.221,-1,0C-1,-0.221,-0.552,-0.4,0,-0.4C0.552,-0.4,1,-0.221,1,0Z", "angle": 317, "filled": false, "stroke": "#3a3aa6", "strokeWidth": 1.1, "size": 4200}, "encoding": {"x": {"datum": 1.45, "type": "quantitative"}, "y": {"datum": 1.55, "type": "quantitative"}}},
              {"data": {"name": "gates"}, "transform": [{"filter": "datum.antigen == 'DEKnull-4' && datum.adj == 'Alum'"}], "mark": {"type": "text", "fontSize": 11.5, "color": "#3a3aa6"}, "encoding": {"x": {"datum": 1.75, "type": "quantitative"}, "y": {"datum": 1.82, "type": "quantitative"}, "text": {"field": "pct", "type": "quantitative", "format": ".2f"}}}
            ]}
          ]
        },
        {
          "vconcat": [
            {
              "width": 241,
              "height": 15,
              "data": {"name": "sig"},
              "layer": [
                {"mark": {"type": "rule", "color": "#555", "strokeWidth": 1}, "encoding": {"x": {"field": "from", "type": "nominal", "scale": {"type": "band", "domain": ["Naïve", "PvDBPII|No adj", "PvDBPII|Tmax", "PvDBPII|GLA-SE", "PvDBPII|Alum", "DEKnull-4|No adj", "DEKnull-4|Tmax", "DEKnull-4|GLA-SE", "DEKnull-4|Alum"], "paddingInner": 0, "paddingOuter": 0.1}, "axis": null}, "x2": {"field": "to"}, "y": {"field": "level", "type": "quantitative", "scale": {"domain": [0.917, 2.167]}, "axis": null}}},
                {"transform": [{"filter": "datum.level == 1"}], "mark": {"type": "text", "fontSize": 11, "baseline": "alphabetic", "dy": 1, "color": "#222"}, "encoding": {"x": {"datum": "PvDBPII|Tmax", "type": "nominal", "bandPosition": 0}, "y": {"field": "level", "type": "quantitative"}, "text": {"field": "label"}}},
                {"transform": [{"filter": "datum.level == 2"}], "mark": {"type": "text", "fontSize": 11, "baseline": "alphabetic", "dy": 1, "color": "#222"}, "encoding": {"x": {"datum": "PvDBPII|Alum", "type": "nominal", "bandPosition": 0}, "y": {"field": "level", "type": "quantitative"}, "text": {"field": "label"}}}
              ]
            },
            {
              "width": 241,
              "height": 147,
              "data": {"name": "fdata"},
              "transform": [{"calculate": "datum.group === 'Naïve' ? 'Naïve' : datum.group + '|' + datum.adj", "as": "cat"}],
              "layer": [
                {
                  "transform": [{"filter": "datum.group === 'Naïve'"}],
                  "mark": {"type": "point", "filled": false, "color": "#444", "strokeWidth": 1, "size": 24, "opacity": 1},
                  "encoding": {
                    "x": {"field": "cat", "type": "nominal", "scale": {"type": "band", "domain": ["Naïve", "PvDBPII|No adj", "PvDBPII|Tmax", "PvDBPII|GLA-SE", "PvDBPII|Alum", "DEKnull-4|No adj", "DEKnull-4|Tmax", "DEKnull-4|GLA-SE", "DEKnull-4|Alum"], "paddingInner": 0, "paddingOuter": 0.1},
                      "axis": {"values": ["Naïve", "PvDBPII|GLA-SE", "DEKnull-4|GLA-SE"], "bandPosition": 0, "labelExpr": "split(datum.value, '|')[0]", "labelOffset": {"condition": {"test": "datum.value == 'Naïve'", "value": 13}, "value": 0}, "tickOpacity": {"condition": {"test": "datum.value == 'Naïve'", "value": 0}, "value": 1}, "labelAngle": 0, "labelFontSize": 11.5, "labelPadding": 3, "tickSize": 4, "title": null}},
                    "xOffset": {"field": "rep", "type": "nominal", "scale": {"paddingInner": 0, "paddingOuter": 0.8}},
                    "y": {"field": "val", "type": "quantitative", "scale": {"domain": [0, 1.5]}, "axis": {"values": [0, 0.5, 1, 1.5], "format": ".1f", "title": "SD1p+ GC B cells (%)", "titleFontSize": 12, "labelFontSize": 11.5, "tickSize": 4, "labelPadding": 3, "titlePadding": 8}}
                  }
                },
                {
                  "transform": [{"filter": "datum.group !== 'Naïve'"}],
                  "mark": {"type": "point", "filled": true, "size": 26, "opacity": 1},
                  "encoding": {
                    "x": {"field": "cat", "type": "nominal"},
                    "xOffset": {"field": "rep", "type": "nominal"},
                    "y": {"field": "val", "type": "quantitative"},
                    "color": {"field": "adj", "type": "nominal", "scale": {"domain": ["No adj", "Tmax", "GLA-SE", "Alum"], "range": ["#111111", "#1e7b1e", "#f47b20", "#1a1a8c"]},
                      "legend": {"title": null, "orient": "none", "legendX": 239, "legendY": 60, "symbolType": "circle", "symbolSize": 20, "labelFontSize": 11, "rowPadding": 5, "labelOffset": 4}}
                  }
                },
                {
                  "mark": {"type": "tick", "color": "#333", "thickness": 1, "size": 17},
                  "encoding": {
                    "x": {"field": "cat", "type": "nominal"},
                    "y": {"aggregate": "mean", "field": "val", "type": "quantitative"}
                  }
                }
              ]
            }
          ],
          "spacing": 0,
          "bounds": "flush"
        }
      ],
      "spacing": 16
    },
    {
      "resolve": {"scale": {"color": "independent"}, "legend": {"color": "independent"}},
      "hconcat": [
        {
          "width": 219,
          "height": 227,
          "title": {"text": "G", "anchor": "start", "frame": "group", "fontSize": 13, "fontWeight": "bold", "color": "#000", "dx": -54, "offset": -14},
          "data": {"name": "g"},
          "transform": [{"calculate": "datum.group + '|' + datum.adj", "as": "cat"}],
          "layer": [
            {
              "mark": {"type": "point", "filled": true, "size": 26, "opacity": 1},
              "encoding": {
                "x": {"field": "cat", "type": "nominal", "scale": {"type": "band", "domain": ["PvDBPII|No adj", "PvDBPII|Tmax", "PvDBPII|GLA-SE", "PvDBPII|Alum", "DEKnull-4|No adj", "DEKnull-4|Tmax", "DEKnull-4|GLA-SE", "DEKnull-4|Alum"], "paddingInner": 0, "paddingOuter": 0.26},
                  "axis": {"values": ["PvDBPII|GLA-SE", "DEKnull-4|GLA-SE"], "bandPosition": 0, "labelExpr": "split(datum.value, '|')[0]", "labelAngle": 0, "labelFontSize": 11.5, "labelPadding": 3, "tickSize": 4, "title": null}},
                "xOffset": {"field": "rep", "type": "nominal", "scale": {"paddingInner": 0, "paddingOuter": 0.52}},
                "y": {"field": "val", "type": "quantitative", "scale": {"domain": [0, 3.2]}, "axis": {"values": [0, 0.8, 1.6, 2.4, 3.2], "format": ".1f", "title": "SD1p reactivity (OD)", "titleFontSize": 12.5, "labelFontSize": 11.5, "tickSize": 4, "labelPadding": 3, "titlePadding": 8}},
                "color": {"field": "adj", "type": "nominal", "scale": {"domain": ["No adj", "Tmax", "GLA-SE", "Alum"], "range": ["#111111", "#1e7b1e", "#f47b20", "#1a1a8c"]},
                  "legend": {"title": null, "orient": "none", "legendX": 227, "legendY": 97, "symbolType": "circle", "symbolSize": 20, "labelFontSize": 12, "rowPadding": 7, "labelOffset": 5}}
              }
            },
            {
              "mark": {"type": "tick", "color": "#666", "thickness": 1, "size": 19},
              "encoding": {
                "x": {"field": "cat", "type": "nominal"},
                "y": {"aggregate": "mean", "field": "val", "type": "quantitative"}
              }
            }
          ]
        },
        {
          "width": 221,
          "height": 227,
          "title": {"text": "H", "anchor": "start", "frame": "group", "fontSize": 13, "fontWeight": "bold", "color": "#000", "dx": -51, "offset": -14},
          "data": {"name": "h"},
          "transform": [{"calculate": "datum.group + '|' + datum.adj", "as": "cat"}],
          "layer": [
            {
              "mark": {"type": "point", "filled": true, "size": 26, "opacity": 1},
              "encoding": {
                "x": {"field": "cat", "type": "nominal", "scale": {"type": "band", "domain": ["PvDBPII|No adj", "PvDBPII|Tmax", "PvDBPII|GLA-SE", "PvDBPII|Alum", "DEKnull-4|No adj", "DEKnull-4|Tmax", "DEKnull-4|GLA-SE", "DEKnull-4|Alum"], "paddingInner": 0, "paddingOuter": 0.25},
                  "axis": {"values": ["PvDBPII|GLA-SE", "DEKnull-4|GLA-SE"], "bandPosition": 0, "labelExpr": "split(datum.value, '|')[0]", "labelAngle": 0, "labelFontSize": 11.5, "labelPadding": 3, "tickSize": 4, "title": null}},
                "xOffset": {"field": "rep", "type": "nominal", "scale": {"paddingInner": 0, "paddingOuter": 0.52}},
                "y": {"field": "val", "type": "quantitative", "scale": {"domain": [0, 3.2]}, "axis": {"values": [0, 0.8, 1.6, 2.4, 3.2], "format": ".1f", "title": "SD1p reactivity (OD)", "titleFontSize": 12.5, "labelFontSize": 11.5, "tickSize": 4, "labelPadding": 3, "titlePadding": 8}},
                "color": {"field": "adj", "type": "nominal", "scale": {"domain": ["No adj", "Tmax", "GLA-SE", "Alum"], "range": ["#111111", "#1e7b1e", "#f47b20", "#1a1a8c"]},
                  "legend": {"title": null, "orient": "none", "legendX": 226, "legendY": 97, "symbolType": "circle", "symbolSize": 20, "labelFontSize": 12, "rowPadding": 7, "labelOffset": 5}}
              }
            },
            {
              "mark": {"type": "tick", "color": "#888", "thickness": 1, "size": 19},
              "encoding": {
                "x": {"field": "cat", "type": "nominal"},
                "y": {"aggregate": "mean", "field": "val", "type": "quantitative"}
              }
            }
          ]
        }
      ],
      "spacing": 151,
      "bounds": "flush"
    }
  ],
  "spacing": 14
}
